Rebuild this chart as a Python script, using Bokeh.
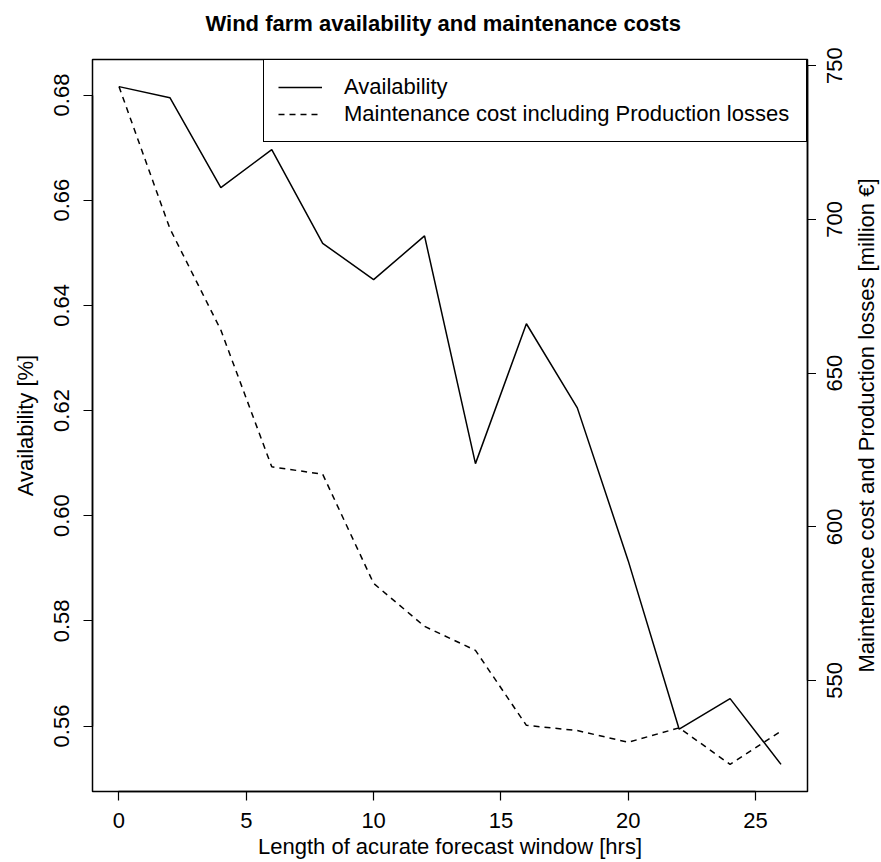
import math
from bokeh.plotting import figure
from bokeh.layouts import row
from bokeh.models import (Range1d, LinearAxis, FixedTicker, NumeralTickFormatter,
                          Legend, LegendItem)
from bokeh.core.properties import value
from bokeh.embed import file_html
from bokeh.resources import INLINE

# ---- data ----
forecast_window_hrs = [0, 2, 4, 6, 8, 10, 12, 14, 16, 18, 20, 22, 24, 26]
availability = [0.6816, 0.6795, 0.6624, 0.6696, 0.6518, 0.6449, 0.6532,
                0.6099, 0.6365, 0.6205, 0.5914, 0.5594, 0.5652, 0.5527]
maintenance_cost = [743.2, 697.0, 664.0, 619.5, 617.1, 581.6, 567.6,
                    559.8, 535.4, 533.7, 529.9, 534.6, 522.7, 533.5]

x_ticks = [0, 5, 10, 15, 20, 25]
availability_ticks = [0.56, 0.58, 0.60, 0.62, 0.64, 0.66, 0.68]
cost_ticks = [550, 600, 650, 700, 750]

title_text = "Wind farm availability and maintenance costs"
x_label = "Length of acurate forecast window [hrs]"
y_label = "Availability [%]"
y2_label = "Maintenance cost and Production losses [million \u20ac]"
series_names = ["Availability", "Maintenance cost including Production losses"]

FONT = "Liberation Sans"
FS = "22px"

# layout constants (pixels)
W_MAIN, W_SIDE, H = 816, 65, 862
B_LEFT, B_RIGHT, B_TOP, B_BOTTOM = 92, 9, 59, 71
SIDE_LEFT = 27


def padded(vals, frac=0.04):
    lo, hi = min(vals), max(vals)
    r = hi - lo
    return lo - frac * r, hi + frac * r


cost_lo, cost_hi = padded(maintenance_cost)
cost_range = Range1d(cost_lo, cost_hi)

p = figure(width=W_MAIN, height=H, output_backend="svg", toolbar_location=None,
           x_range=Range1d(*padded(forecast_window_hrs)),
           y_range=Range1d(*padded(availability)),
           min_border_left=B_LEFT, min_border_right=B_RIGHT,
           min_border_top=B_TOP, min_border_bottom=B_BOTTOM,
           title=title_text)

p.extra_y_ranges = {"cost": cost_range}

p.background_fill_color = "white"
p.border_fill_color = "white"
p.outline_line_color = "black"
p.outline_line_width = 1.5
p.outline_line_alpha = 1.0
p.xgrid.visible = False
p.ygrid.visible = False

# title
p.title.align = "left"
p.title.offset = 113
p.title.vertical_align = "top"
p.title.standoff = 0
p.title.text_font = FONT
p.title.text_font_size = FS
p.title.text_font_style = "bold"
p.title.text_color = "black"
try:
    p.title.padding = dict(left=0, right=0, top=8, bottom=22)
except Exception:
    p.title.vertical_align = "middle"
    p.title.standoff = 30

right_axis = LinearAxis(y_range_name="cost")
p.add_layout(right_axis, "right")

xaxis = p.xaxis[0]
yaxis = p.yaxis[0]

for ax in (xaxis, yaxis, right_axis):
    ax.major_tick_out = 9
    ax.major_tick_in = 0
    ax.minor_tick_out = 0
    ax.minor_tick_in = 0
    ax.major_tick_line_color = "black"
    ax.major_tick_line_width = 1.2
    ax.axis_line_color = "black"
    ax.axis_line_width = 1.5
    ax.major_label_text_font = FONT
    ax.major_label_text_font_size = FS
    ax.major_label_text_color = "black"
    ax.axis_label_text_font = FONT
    ax.axis_label_text_font_size = FS
    ax.axis_label_text_font_style = "normal"
    ax.axis_label_text_color = "black"

xaxis.ticker = FixedTicker(ticks=x_ticks)
xaxis.bounds = (x_ticks[0], x_ticks[-1])
xaxis.axis_label = x_label
xaxis.major_label_standoff = 12
xaxis.axis_label_standoff = 3

yaxis.ticker = FixedTicker(ticks=availability_ticks)
yaxis.bounds = (availability_ticks[0], availability_ticks[-1])
yaxis.formatter = NumeralTickFormatter(format="0.00")
yaxis.major_label_orientation = "vertical"
yaxis.axis_label = y_label
yaxis.major_label_standoff = 14
yaxis.axis_label_standoff = 14

# right axis of the main plot: line and ticks only; its numbers (read
# bottom-to-top, as in the reference) come from the side figure's axis
right_axis.ticker = FixedTicker(ticks=cost_ticks)
right_axis.bounds = (cost_ticks[0], cost_ticks[-1])
right_axis.major_label_overrides = {t: "" for t in cost_ticks}
right_axis.major_label_text_font_size = "0px"
right_axis.major_label_standoff = 0

r1 = p.line(forecast_window_hrs, availability, line_color="black", line_width=1.5)
r2 = p.line(forecast_window_hrs, maintenance_cost, y_range_name="cost",
            line_color="black", line_width=1.5, line_dash="6 5")

legend = Legend(items=[LegendItem(label=series_names[0], renderers=[r1]),
                       LegendItem(label=series_names[1], renderers=[r2])],
                location="top_right", margin=0, padding=14, spacing=1,
                glyph_width=44, glyph_height=26, label_height=26,
                label_width=448, label_standoff=22, label_text_font=FONT,
                label_text_font_size=FS, label_text_color="black",
                border_line_color="black", border_line_width=1.5,
                border_line_alpha=1.0,
                background_fill_color="white", background_fill_alpha=1.0)
p.add_layout(legend)

# ---- side figure: cost tick numbers (its own left axis, same cost range)
#      and the right-hand axis title ----
side_frame_w = W_SIDE - SIDE_LEFT
p2 = figure(width=W_SIDE, height=H, output_backend="svg", toolbar_location=None,
            x_range=Range1d(0, side_frame_w), y_range=cost_range,
            min_border_left=SIDE_LEFT, min_border_right=0,
            min_border_top=B_TOP, min_border_bottom=B_BOTTOM,
            x_axis_location=None)
p2.outline_line_color = None
p2.background_fill_color = "white"
p2.border_fill_color = "white"
p2.xgrid.visible = False
p2.ygrid.visible = False

side_axis = p2.yaxis[0]
side_axis.ticker = FixedTicker(ticks=cost_ticks)
side_axis.axis_line_color = None
side_axis.major_tick_line_color = None
side_axis.major_tick_out = 0
side_axis.major_tick_in = 0
side_axis.minor_tick_out = 0
side_axis.minor_tick_in = 0
side_axis.major_label_orientation = "vertical"
side_axis.major_label_standoff = 1
side_axis.major_label_text_font = FONT
side_axis.major_label_text_font_size = FS
side_axis.major_label_text_color = "black"

p2.text(x=[23], y=[(cost_lo + cost_hi) / 2], text=[y2_label],
        angle=math.pi / 2, text_align="center", text_baseline="middle",
        text_font=value(FONT), text_font_size=value(FS), text_color="black")

layout = row(p, p2)
open("out.html", "w").write(file_html(layout, INLINE))
